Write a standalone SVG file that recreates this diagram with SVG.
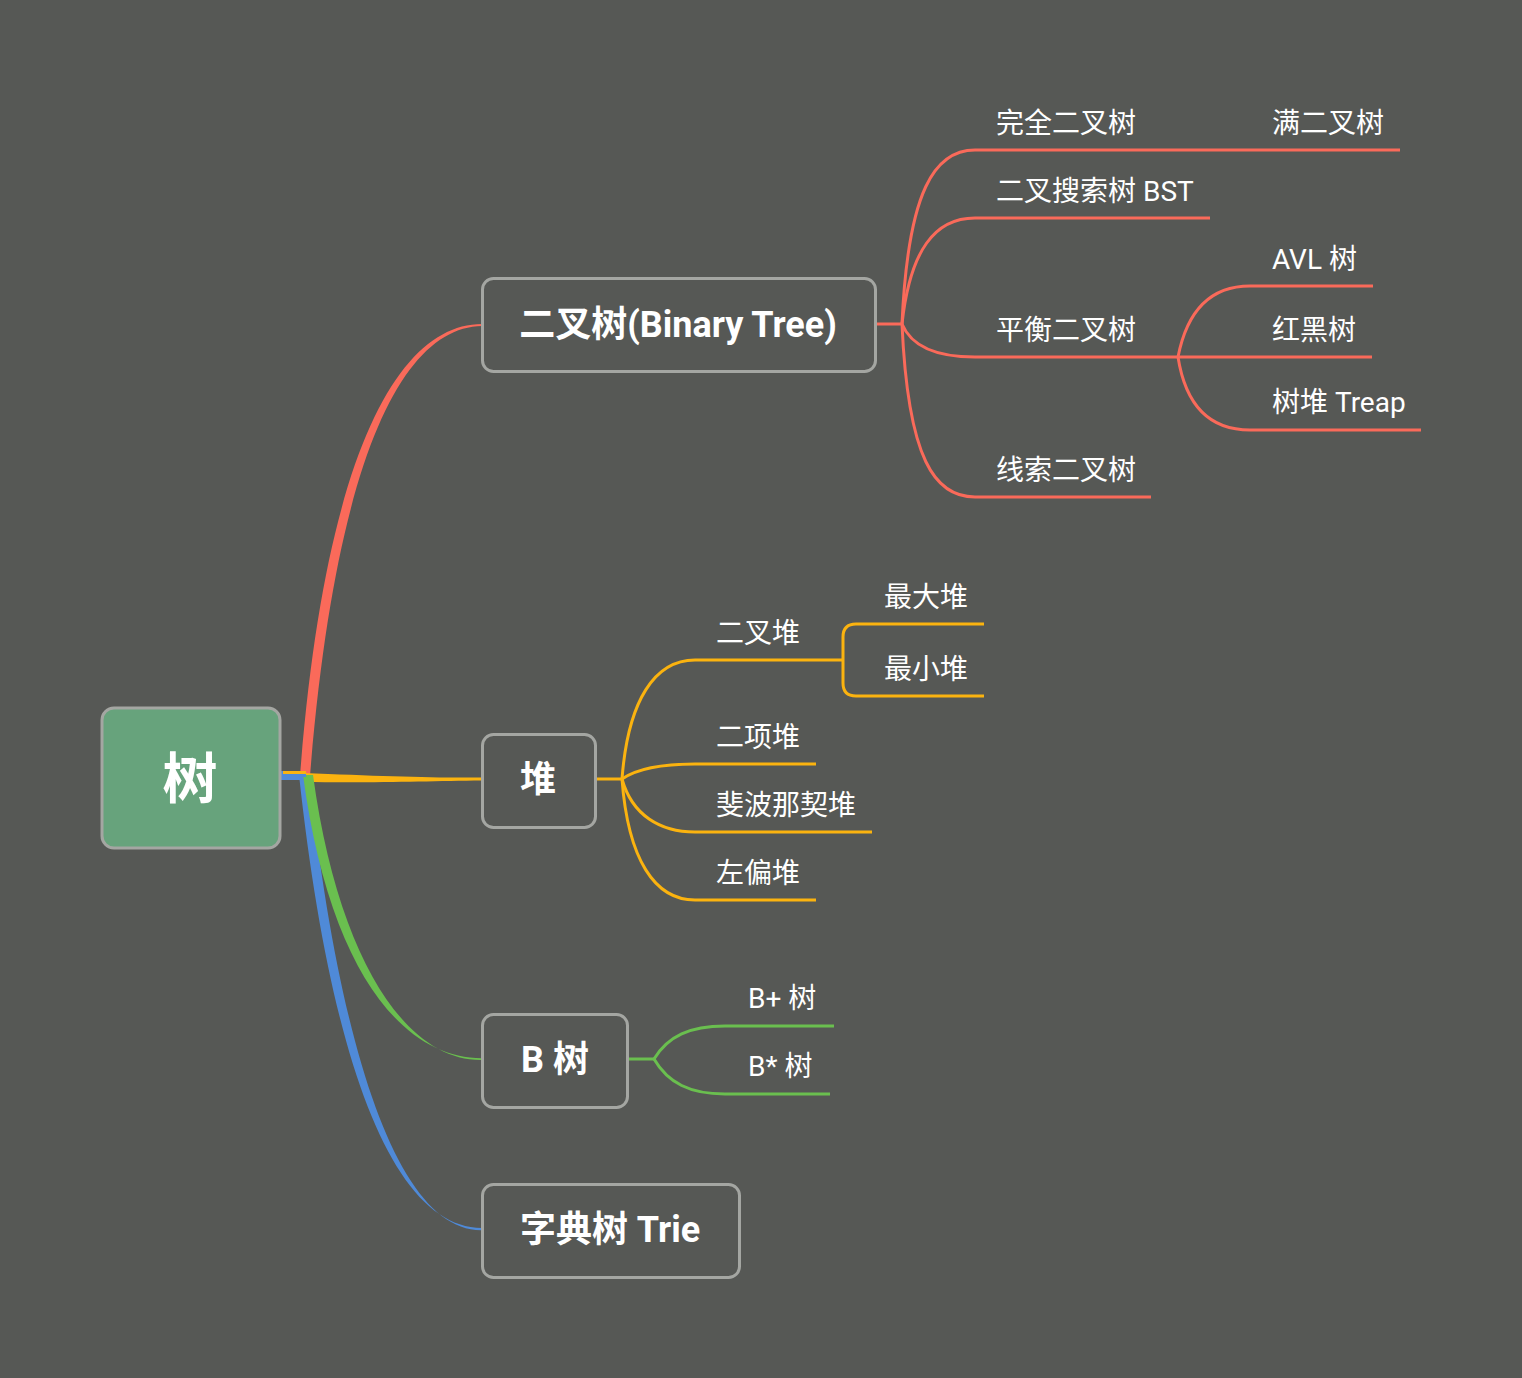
<svg xmlns="http://www.w3.org/2000/svg" width="1522" height="1378" viewBox="0 0 1522 1378">
<style>
.node{fill:#565855;stroke:#A4A6A2;stroke-width:3}
.root{fill:#67A37C;stroke:#A4A6A2;stroke-width:3}
.nt{font-family:Roboto,"Noto Sans CJK SC",sans-serif;font-weight:bold;fill:#FFFFFF;text-anchor:middle}
.lt{font-family:Roboto,"Noto Sans CJK SC",sans-serif;font-size:28px;fill:#FFFFFF}
.r{fill:none;stroke:#FA6A5A;stroke-width:3}
.y{fill:none;stroke:#FBB30F;stroke-width:3}
.g{fill:none;stroke:#6ABF4F;stroke-width:3}
</style>
<rect x="0" y="0" width="1522" height="1378" fill="#565855"/>
<g id="connectors">
  <!-- root branches (tapered) -->
  <path d="M280,771 L306,771 L306,780 L280,780 Z" fill="#4F8AD8"/>
  <path d="M300,776 C 325,450 400,324 482,324 L482,326 C 404,327 336,454 310,776 Z" fill="#FA6A5A"/>
  <path d="M303,773 C 380,776 430,778 482,777.5 L482,780.5 C 430,781 380,783 303,782 Z" fill="#FBB30F"/>
  <path d="M299,775 C 330,1060 392,1227.5 482,1228 L482,1230.2 C 400,1231.5 340,1058 309,775 Z" fill="#4F8AD8"/>
  <path d="M303,775 C 328,962 398,1058 482,1058.3 L482,1060 C 406,1061.5 338,958 313,775 Z" fill="#6ABF4F"/>
  <path d="M282,773 L306,773 L306,777 L282,777 Z" fill="#4F8AD8"/>
  <path d="M283,771 L306,771 L306,774 L283,774 Z" fill="#FBB30F"/>
  <!-- binary tree -->
  <path class="r" d="M876,324 L902,324"/>
  <path class="r" d="M902,324 C 908,190 935,150 975,150 L1400,150"/>
  <path class="r" d="M902,324 C 910,250 935,218 975,218 L1210,218"/>
  <path class="r" d="M902,324 C 912,348 938,357 975,357 L1372,357"/>
  <path class="r" d="M902,324 C 908,460 935,497 975,497 L1151,497"/>
  <path class="r" d="M1178,357 C 1188,306 1214,286 1250,286 L1373,286"/>
  <path class="r" d="M1178,357 C 1186,408 1212,430 1250,430 L1421,430"/>
  <!-- heap -->
  <path class="y" d="M596,779 L622,779"/>
  <path class="y" d="M622,779 C 628,700 655,660 695,660 L842,660"/>
  <path class="y" d="M622,779 C 635,770 660,764 695,764 L816,764"/>
  <path class="y" d="M622,779 C 632,815 660,832 695,832 L872,832"/>
  <path class="y" d="M622,779 C 628,860 655,900 695,900 L816,900"/>
  <path class="y" d="M984,624 L856,624 Q843,624 843,637 L843,683 Q843,696 856,696 L984,696"/>
  <!-- B tree -->
  <path class="g" d="M628,1059 L654,1059"/>
  <path class="g" d="M654,1059 C 668,1036 690,1026 725,1026 L834,1026"/>
  <path class="g" d="M654,1059 C 668,1083 690,1094 725,1094 L830,1094"/>
</g>
<g id="root">
  <rect class="root" x="102" y="708" width="178" height="140" rx="12"/>
  <text class="nt" x="190" y="798" font-size="55">树</text>
</g>
<g id="binary-tree">
  <rect class="node" x="482.5" y="278.5" width="393" height="93" rx="11"/>
  <text class="nt" x="678" y="337" font-size="36">二叉树(Binary Tree)</text>
</g>
<g id="heap">
  <rect class="node" x="482.5" y="734.5" width="113" height="93" rx="11"/>
  <text class="nt" x="538" y="792" font-size="36">堆</text>
</g>
<g id="b-tree">
  <rect class="node" x="482.5" y="1014.5" width="145" height="93" rx="11"/>
  <text class="nt" x="555" y="1072" font-size="36">B 树</text>
</g>
<g id="trie">
  <rect class="node" x="482.5" y="1184.5" width="257" height="93" rx="11"/>
  <text class="nt" x="610" y="1242" font-size="36">字典树 Trie</text>
</g>
<g id="leaf-complete"><text class="lt" x="996" y="133">完全二叉树</text></g>
<g id="leaf-full"><text class="lt" x="1272" y="133">满二叉树</text></g>
<g id="leaf-bst"><text class="lt" x="996" y="201">二叉搜索树 BST</text></g>
<g id="leaf-balanced"><text class="lt" x="996" y="340">平衡二叉树</text></g>
<g id="leaf-thread"><text class="lt" x="996" y="480">线索二叉树</text></g>
<g id="leaf-avl"><text class="lt" x="1272" y="269">AVL 树</text></g>
<g id="leaf-rb"><text class="lt" x="1272" y="340">红黑树</text></g>
<g id="leaf-treap"><text class="lt" x="1272" y="412">树堆 Treap</text></g>
<g id="leaf-binheap"><text class="lt" x="716" y="643">二叉堆</text></g>
<g id="leaf-max"><text class="lt" x="884" y="607">最大堆</text></g>
<g id="leaf-min"><text class="lt" x="884" y="679">最小堆</text></g>
<g id="leaf-binomial"><text class="lt" x="716" y="747">二项堆</text></g>
<g id="leaf-fib"><text class="lt" x="716" y="815">斐波那契堆</text></g>
<g id="leaf-leftist"><text class="lt" x="716" y="883">左偏堆</text></g>
<g id="leaf-bplus"><text class="lt" x="748" y="1008">B+ 树</text></g>
<g id="leaf-bstar"><text class="lt" x="748" y="1076">B* 树</text></g>
</svg>
